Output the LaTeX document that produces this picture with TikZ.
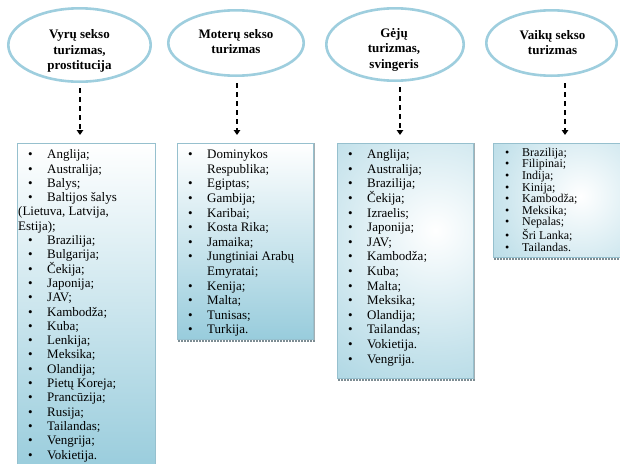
\documentclass[tikz,border=0pt]{standalone}
\usepackage{fontspec}
\setmainfont{Liberation Serif}
\usetikzlibrary{shapes.geometric,arrows.meta,calc}
\definecolor{ellblue}{RGB}{158,206,222}
\definecolor{boxblue}{RGB}{152,204,220}
\colorlet{boxmid}{white!45!boxblue}
\definecolor{boxedge}{RGB}{150,192,206}
\definecolor{shadowgray}{RGB}{125,140,146}
\pgfdeclareradialshading{boxrad}{\pgfpoint{0bp}{0bp}}{color(0bp)=(white); color(18bp)=(boxmid); color(35bp)=(boxblue); color(50bp)=(boxblue)}
\newcommand{\bitem}{\hspace*{10pt}\makebox[19pt][l]{\textbullet}}
\newcommand{\bitemb}{\hspace*{11pt}\makebox[17pt][l]{\textbullet}}
\newcommand{\contline}{\hspace*{29pt}}
\newcommand{\firstln}{\rule{0pt}{10pt}}
\begin{document}
\begin{tikzpicture}[x=1pt,y=-1pt,
  ell/.style={ellipse, draw=ellblue, fill=white, line width=2.6pt, inner sep=0pt},
  elltext/.style={inner sep=0pt, align=center, font=\fontsize{13}{15.5}\selectfont\bfseries},
  listbox/.style={rectangle, draw=boxedge, line width=0.8pt, inner sep=0pt, anchor=north west},
  vshade/.style={listbox, top color=white, bottom color=boxblue},
  rshade/.style 2 args={listbox, fill=boxblue,
    path picture={\shade[shading=boxrad]
      ($(path picture bounding box.center)+(#1)$) ++(-#2,-#2) rectangle ++({2*#2},{2*#2});}},
  listtext/.style={anchor=north west, inner sep=0pt, align=left,
    font=\fontsize{13}{14.6}\selectfont},
  arr/.style={line width=1.8pt, dash pattern=on 5pt off 4pt,
    -{Triangle[length=5pt,width=6.5pt]}},
  shad/.style={draw=shadowgray, line width=1.4pt, dash pattern=on 2pt off 1pt}
]
\useasboundingbox (0,0) rectangle (620,463);
\clip (0,0) rectangle (620,463);
\fill[white] (0,0) rectangle (620,463);

% ellipses
\node[ell, minimum width=142.4pt, minimum height=73.4pt] (e1) at (79.5,45) {};
\node[ell, minimum width=135.4pt, minimum height=65.4pt] (e2) at (236,43) {};
\node[ell, minimum width=137.4pt, minimum height=72.4pt] (e3) at (395,44.5) {};
\node[ell, minimum width=130.4pt, minimum height=65.4pt] (e4) at (551.5,43) {};
\node[elltext] (t1) at ($(e1.center)+(0,6)$) {Vyrų sekso\\turizmas,\\prostitucija};
\node[elltext] (t2) at ($(e2.center)+(0,-1.5)$) {Moterų sekso\\turizmas};
\node[elltext] (t3) at ($(e3.center)+(-1,5)$) {Gėjų\\turizmas,\\svingeris};
\node[elltext] (t4) at ($(e4.center)+(1,-0.5)$) {Vaikų sekso\\turizmas};

% boxes
\node[vshade, minimum width=138pt, minimum height=330pt] (b1) at (17,143) {};
\node[vshade, minimum width=136pt, minimum height=196pt] (b2) at (177,143) {};
\node[rshade={30,-30.5}{170}, minimum width=136pt, minimum height=235pt] (b3) at (337,143) {};
\node[rshade={21,-4.5}{120}, minimum width=132pt, minimum height=114pt] (b4) at (493,143) {};

% shadows
\foreach \b in {b2,b3,b4}{
  \draw[shad] ([xshift=1pt,yshift=-1.2pt]\b.south west) -- ([xshift=1pt,yshift=-1.2pt]\b.south east);
}
\draw[draw=shadowgray!70, line width=0.8pt] ([xshift=0.8pt]b2.north east) -- ([xshift=0.8pt]b2.south east);
\draw[draw=shadowgray!70, line width=0.8pt] ([xshift=0.8pt]b3.north east) -- ([xshift=0.8pt]b3.south east);

% list texts
\node[listtext, font=\fontsize{13}{14.3}\selectfont] (l1) at (18,148.5) {\firstln\bitem Anglija;\\
\bitem Australija;\\
\bitem Balys;\\
\bitem Baltijos šalys\\
(Lietuva, Latvija,\\
Estija);\\
\bitem Brazilija;\\
\bitem Bulgarija;\\
\bitem Čekija;\\
\bitem Japonija;\\
\bitem JAV;\\
\bitem Kambodža;\\
\bitem Kuba;\\
\bitem Lenkija;\\
\bitem Meksika;\\
\bitem Olandija;\\
\bitem Pietų Koreja;\\
\bitem Prancūzija;\\
\bitem Rusija;\\
\bitem Tailandas;\\
\bitem Vengrija;\\
\bitem Vokietija.};

\node[listtext] (l2) at (178,148.5) {\firstln\bitem Dominykos\\
\contline Respublika;\\
\bitem Egiptas;\\
\bitem Gambija;\\
\bitem Karibai;\\
\bitem Kosta Rika;\\
\bitem Jamaika;\\
\bitem Jungtiniai Arabų\\
\contline Emyratai;\\
\bitem Kenija;\\
\bitem Malta;\\
\bitem Tunisas;\\
\bitem Turkija.};

\node[listtext] (l3) at (338,148.5) {\firstln\bitem Anglija;\\
\bitem Australija;\\
\bitem Brazilija;\\
\bitem Čekija;\\
\bitem Izraelis;\\
\bitem Japonija;\\
\bitem JAV;\\
\bitem Kambodža;\\
\bitem Kuba;\\
\bitem Malta;\\
\bitem Meksika;\\
\bitem Olandija;\\
\bitem Tailandas;\\
\bitem Vokietija.\\
\bitem Vengrija.};

\node[listtext, font=\fontsize{12}{11.6}\selectfont] (l4) at (494,146) {\firstln\bitemb Brazilija;\\
\bitemb Filipinai;\\
\bitemb Indija;\\
\bitemb Kinija;\\
\bitemb Kambodža;\\
\bitemb Meksika;\\
\bitemb Nepalas;\\
\bitemb Šri Lanka;\\
\bitemb Tailandas.};

% arrows
\coordinate (x1) at (80,0);
\coordinate (x2) at (237,0);
\coordinate (x3) at (400,0);
\coordinate (x4) at (565,0);
\draw[arr] ($(e1.south -| x1)+(0,5)$) -- ($(b1.north -| x1)+(0,-8)$);
\draw[arr] ($(e2.south -| x2)+(0,6)$) -- ($(b2.north -| x2)+(0,-8)$);
\draw[arr] ($(e3.south -| x3)+(0,5)$) -- ($(b3.north -| x3)+(0,-8)$);
\draw[arr] ($(e4.south -| x4)+(0,6)$) -- ($(b4.north -| x4)+(0,-8)$);
\end{tikzpicture}
\end{document}
